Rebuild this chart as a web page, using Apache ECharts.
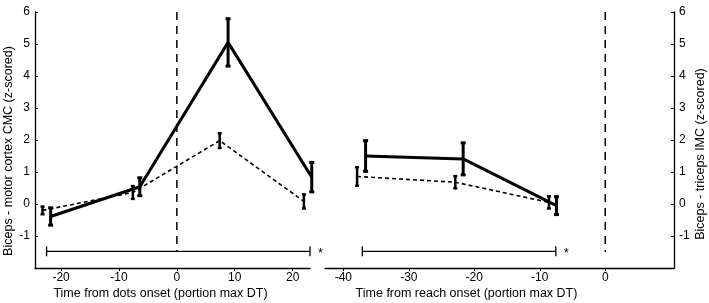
<!DOCTYPE html>
<html>
<head>
<meta charset="utf-8">
<script src="https://cdn.jsdelivr.net/npm/echarts@6/dist/echarts.min.js"></script>
<style>
html,body{margin:0;padding:0;background:#fff;}
#chart{width:709px;height:303px;}
</style>
</head>
<body>
<div id="chart"></div>
<script>
// ---- Data ----
var dotsSolidX = [-21.8, -6.4, 8.85, 23.3];
var dotsSolidY = [-0.39, 0.54, 5.05, 0.84];
var dotsSolidErr = [0.27, 0.28, 0.74, 0.46];
var dotsDashedX = [-23.2, -7.6, 7.4, 21.95];
var dotsDashedY = [-0.2, 0.36, 1.98, 0.08];
var dotsDashedErr = [0.12, 0.2, 0.23, 0.22];

var reachSolidX = [-36.6, -21.7, -7.45];
var reachSolidY = [1.5, 1.41, -0.05];
var reachSolidErr = [0.48, 0.5, 0.28];
var reachDashedX = [-37.9, -22.9, -8.6];
var reachDashedY = [0.86, 0.68, 0.05];
var reachDashedErr = [0.29, 0.19, 0.19];

var dotsTicks = [-20, -10, 0, 10, 20];
var reachTicks = [-40, -30, -20, -10, 0];
var yTicks = [-1, 0, 1, 2, 3, 4, 5, 6];

var dotsSig = [-22.5, 23.0, -1.48];   // start, end, level
var reachSig = [-37.1, -7.55, -1.48];
var onsetLine = [6, -1.5];

var xNameLeft = 'Time from dots onset (portion max DT)';
var xNameRight = 'Time from reach onset (portion max DT)';
var yNameLeft = 'Biceps - motor cortex CMC (z-scored)';
var yNameRight = 'Biceps - triceps IMC (z-scored)';

// ---- Build ----
var FONT = 'Liberation Sans';
function pts(xs, ys) { return xs.map(function (x, i) { return [x, ys[i]]; }); }
function errPts(xs, ys, es) { return xs.map(function (x, i) { return [x, ys[i], es[i]]; }); }

function errSeries(idx, data, lw, cap) {
  return {
    type: 'custom', xAxisIndex: idx, yAxisIndex: idx, clip: false, z: 5,
    data: data,
    encode: { x: 0, y: 1 },
    renderItem: function (params, api) {
      var x = api.value(0), y = api.value(1), e = api.value(2);
      var top = api.coord([x, y + e]);
      var bot = api.coord([x, y - e]);
      var st = { stroke: '#000', lineWidth: lw, fill: null };
      return {
        type: 'group',
        children: [
          { type: 'line', shape: { x1: top[0], y1: top[1], x2: bot[0], y2: bot[1] }, style: st },
          { type: 'line', shape: { x1: top[0] - cap, y1: top[1], x2: top[0] + cap, y2: top[1] }, style: st },
          { type: 'line', shape: { x1: bot[0] - cap, y1: bot[1], x2: bot[0] + cap, y2: bot[1] }, style: st }
        ]
      };
    }
  };
}

function sigSeries(idx, sig) {
  return {
    type: 'custom', xAxisIndex: idx, yAxisIndex: idx, clip: false, z: 3,
    data: [[sig[0], sig[1], sig[2]]],
    encode: { x: [0, 1], y: 2 },
    renderItem: function (params, api) {
      var a = api.coord([api.value(0), api.value(2)]);
      var b = api.coord([api.value(1), api.value(2)]);
      var st = { stroke: '#000', lineWidth: 1.3, fill: null };
      return {
        type: 'group',
        children: [
          { type: 'line', shape: { x1: a[0], y1: a[1], x2: b[0], y2: b[1] }, style: st },
          { type: 'line', shape: { x1: a[0], y1: a[1] - 5, x2: a[0], y2: a[1] + 5 }, style: st },
          { type: 'line', shape: { x1: b[0], y1: b[1] - 5, x2: b[0], y2: b[1] + 5 }, style: st },
          { type: 'text', style: { x: b[0] + 8, y: b[1] + 2, text: '*', fill: '#000', font: '13px "' + FONT + '"', align: 'left', verticalAlign: 'middle' } }
        ]
      };
    }
  };
}

function lineSeries(idx, data, solid) {
  return {
    type: 'line', xAxisIndex: idx, yAxisIndex: idx, clip: false,
    data: data, symbol: 'none', z: solid ? 6 : 4,
    lineStyle: solid ? { color: '#000', width: 3 } : { color: '#000', width: 1.6, type: [4, 3] }
  };
}

function onsetSeries(idx) {
  return {
    type: 'line', xAxisIndex: idx, yAxisIndex: idx, clip: false, z: 2,
    data: [[0, onsetLine[0]], [0, onsetLine[1]]], symbol: 'none',
    lineStyle: { color: '#000', width: 1.5, type: [8, 6] }
  };
}

var labelStyle = { color: '#000', fontSize: 12, fontFamily: FONT };

function xAxisDef(idx, min, max, ticks, name, shift) {
  return {
    type: 'value', gridIndex: idx, min: min, max: max,
    name: name, nameLocation: 'middle', nameGap: 19, nameMoveOverlap: false,
    nameTextStyle: { color: '#000', fontSize: 12.5, fontFamily: FONT, padding: [0, shift, 0, 0] },
    splitLine: { show: false },
    axisLine: { show: true, onZero: false, lineStyle: { color: '#000', width: 1.3 } },
    axisTick: { show: true, inside: false, length: 3, customValues: ticks, lineStyle: { color: '#000' } },
    axisLabel: Object.assign({ margin: 4, customValues: ticks }, labelStyle)
  };
}
function yAxisDef(idx, pos, name, shift) {
  return {
    type: 'value', gridIndex: idx, min: -2, max: 6, position: pos,
    name: name, nameLocation: 'middle', nameGap: 20, nameMoveOverlap: false,
    nameTextStyle: { color: '#000', fontSize: 12.5, fontFamily: FONT, padding: [0, shift, 0, 0] },
    splitLine: { show: false },
    axisLine: { show: true, onZero: false, lineStyle: { color: '#000', width: 1.3 } },
    axisTick: { show: true, inside: true, length: 3, customValues: yTicks, lineStyle: { color: '#000' } },
    axisLabel: Object.assign({ margin: 5, customValues: yTicks, padding: [0, 0, 6, 0] }, labelStyle)
  };
}

var chart = echarts.init(document.getElementById('chart'), null, { renderer: 'canvas' });
chart.setOption({
  animation: false,
  backgroundColor: '#fff',
  grid: [
    { left: 35, top: 12, width: 275, height: 256, outerBoundsMode: 'none', containLabel: false },
    { left: 325, top: 12, width: 349, height: 256, outerBoundsMode: 'none', containLabel: false }
  ],
  xAxis: [
    xAxisDef(0, -24.5, 23, dotsTicks, xNameLeft, 24),
    xAxisDef(1, -42.8, 10.5, reachTicks, xNameRight, 66)
  ],
  yAxis: [
    yAxisDef(0, 'left', yNameLeft, 22),
    yAxisDef(1, 'right', yNameRight, 28)
  ],
  series: [
    onsetSeries(0),
    onsetSeries(1),
    sigSeries(0, dotsSig),
    sigSeries(1, reachSig),
    lineSeries(0, pts(dotsDashedX, dotsDashedY), false),
    errSeries(0, errPts(dotsDashedX, dotsDashedY, dotsDashedErr), 2.5, 2),
    lineSeries(0, pts(dotsSolidX, dotsSolidY), true),
    errSeries(0, errPts(dotsSolidX, dotsSolidY, dotsSolidErr), 3, 2.5),
    lineSeries(1, pts(reachDashedX, reachDashedY), false),
    errSeries(1, errPts(reachDashedX, reachDashedY, reachDashedErr), 2.5, 2),
    lineSeries(1, pts(reachSolidX, reachSolidY), true),
    errSeries(1, errPts(reachSolidX, reachSolidY, reachSolidErr), 3, 2.5)
  ]
});
</script>
</body>
</html>
